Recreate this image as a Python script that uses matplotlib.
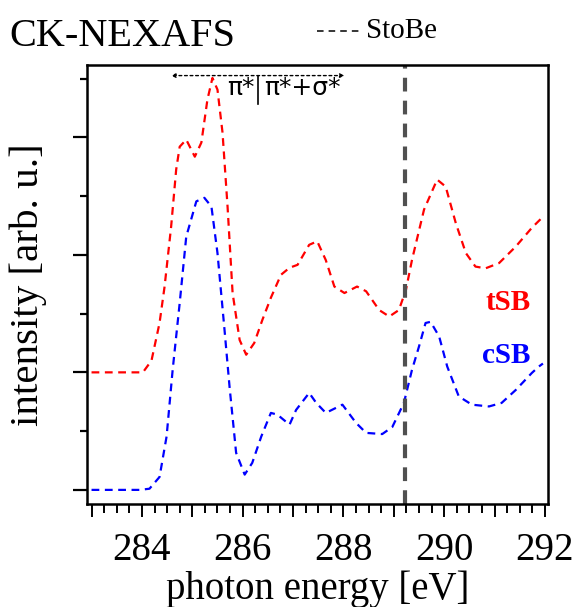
import numpy as np
import matplotlib
matplotlib.use('Agg')
import matplotlib.pyplot as plt
from matplotlib.lines import Line2D
from matplotlib.ticker import FixedLocator, MultipleLocator, FuncFormatter

plt.rcParams['font.family'] = ['Liberation Serif', 'DejaVu Serif']

# Spectre tSB (decale de +2)
e_tsb = [283.0, 284.02, 284.19, 284.35, 284.45, 284.58, 284.68, 284.75, 284.88, 285.05,
         285.18, 285.30, 285.40, 285.50, 285.60, 285.70, 285.80, 285.94, 286.07, 286.23,
         286.39, 286.56, 286.76, 286.93, 287.09, 287.32, 287.48, 287.65, 287.82, 288.02,
         288.27, 288.45, 288.71, 288.91, 289.10, 289.24, 289.36, 289.60, 289.86, 290.03,
         290.23, 290.43, 290.62, 290.82, 291.09, 291.42, 291.74, 291.94]
i_tsb = [2.0, 2.0, 2.2, 2.84, 3.46, 4.48, 5.45, 5.84, 5.96, 5.67,
         5.91, 6.64, 7.01, 6.81, 6.08, 4.82, 3.35, 2.55, 2.30, 2.50,
         2.89, 3.27, 3.66, 3.78, 3.83, 4.17, 4.23, 3.91, 3.46, 3.35,
         3.46, 3.38, 3.06, 2.95, 3.06, 3.40, 3.91, 4.77, 5.28, 5.16,
         4.54, 4.03, 3.80, 3.77, 3.86, 4.14, 4.46, 4.63]

# Spectre cSB
e_csb = [283.0, 283.96, 284.15, 284.35, 284.49, 284.61, 284.75, 284.88, 285.08, 285.24,
         285.38, 285.50, 285.64, 285.74, 285.87, 286.04, 286.19, 286.37, 286.56, 286.69,
         286.93, 287.06, 287.32, 287.46, 287.65, 287.98, 288.25, 288.45, 288.77, 288.97,
         289.20, 289.36, 289.50, 289.63, 289.73, 289.90, 290.06, 290.29, 290.55, 290.89,
         291.14, 291.42, 291.74, 291.88, 291.96]
i_csb = [0.0, 0.0, 0.02, 0.22, 0.91, 2.04, 3.18, 4.31, 4.91, 4.97,
         4.82, 4.03, 2.72, 1.75, 0.63, 0.26, 0.46, 0.91, 1.31, 1.28,
         1.11, 1.36, 1.65, 1.48, 1.31, 1.45, 1.14, 0.97, 0.95, 1.07,
         1.48, 2.04, 2.44, 2.84, 2.86, 2.61, 2.10, 1.59, 1.45, 1.42,
         1.48, 1.70, 1.99, 2.10, 2.15]

stobe_e = 289.22
x_labels = [284, 286, 288, 290, 292]

fig = plt.figure(figsize=(5.75, 6.07), dpi=100)
ax = fig.add_axes([0.1513, 0.1697, 0.8017, 0.7232])

ax.plot(e_tsb, i_tsb, color='red', lw=1.6, ls=(0, (3.5, 2.5)))
ax.plot(e_csb, i_csb, color='blue', lw=1.6, ls=(0, (3.5, 2.5)))
ax.axvline(stobe_e, color='#505050', lw=3.0, ls=(0, (3.3, 2.2)))

ax.set_xlim(282.91, 292.06)
ax.set_ylim(-0.24, 7.23)

# Axe x : graduations
ax.xaxis.set_major_locator(FixedLocator(np.arange(283, 293, 1)))
ax.xaxis.set_minor_locator(MultipleLocator(0.25))
ax.xaxis.set_major_formatter(FuncFormatter(lambda v, p: '%d' % v if round(v) in x_labels else ''))
ax.yaxis.set_major_locator(MultipleLocator(2))
ax.yaxis.set_minor_locator(MultipleLocator(1))
ax.yaxis.set_major_formatter(FuncFormatter(lambda v, p: ''))
ax.tick_params(axis='x', which='major', length=9.5, width=1.4, labelsize=28, pad=11)
ax.tick_params(axis='x', which='minor', length=6.5, width=1.4)
ax.tick_params(axis='y', which='major', length=10, width=1.6)
ax.tick_params(axis='y', which='minor', length=5, width=1.6)
for s in ax.spines.values():
    s.set_linewidth(1.8)

ax.set_xlabel('photon energy [eV]', fontsize=28, labelpad=0.5)
ax.set_ylabel('intensity [arb. u.]', fontsize=29.5, labelpad=15)

# Annotation pi* | pi*+sigma*
ax.annotate('', xy=(284.58, 7.05), xytext=(288.02, 7.05),
            arrowprops=dict(arrowstyle='<|-|>', ls=(0, (2, 2)), lw=1.0, color='black',
                            mutation_scale=6, shrinkA=0, shrinkB=0))
ax.plot([286.30, 286.30], [7.05, 6.56], color='black', lw=1.2)
ax.text(286.23, 6.72, 'π*', fontsize=18, family='DejaVu Sans', ha='right', va='baseline')
ax.text(286.42, 6.72, 'π*+σ*', fontsize=18, family='DejaVu Sans', ha='left', va='baseline')

ax.text(291.72, 3.06, 'tSB', color='red', fontsize=21, fontweight='bold', ha='right', va='baseline')
ax.text(291.72, 2.16, 'cSB', color='blue', fontsize=21, fontweight='bold', ha='right', va='baseline')

fig.text(0.017, 0.925, 'CK-NEXAFS', fontsize=29, ha='left', va='baseline')

# Legende StoBe
fig.add_artist(Line2D([317 / 575, 359 / 575], [1 - 31 / 607, 1 - 31 / 607], color='black',
                      lw=1.1, ls=(0, (4.3, 3.3))))
fig.text(366 / 575, 1 - 31 / 607, 'StoBe', fontsize=21, ha='left', va='center')

plt.savefig('out.png', dpi=100)
